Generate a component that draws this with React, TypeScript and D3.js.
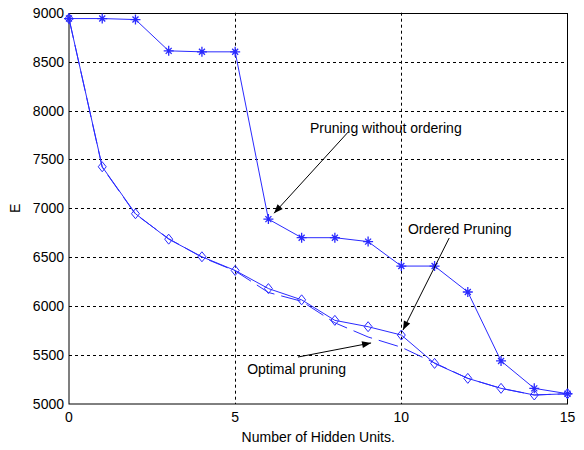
import React, { useRef, useEffect } from "react";
import * as d3 from "d3";

// hidden units on the x axis
const units = d3.range(0, 16);
const withoutOrdering = [8940, 8940, 8930, 8610, 8600, 8600, 6890, 6700, 6700, 6660, 6410, 6410, 6145, 5440, 5160, 5105];
const orderedPruning = [8940, 7425, 6945, 6685, 6505, 6365, 6180, 6065, 5855, 5790, 5705, 5415, 5262, 5160, 5092, 5105];
const optimalPruning = [8940, 7420, 6940, 6690, 6500, 6360, 6140, 6050, 5830, 5685, 5580, 5420, 5262, 5160, 5092, 5105];

const xTicks = [0, 5, 10, 15];
const yTicks = [5000, 5500, 6000, 6500, 7000, 7500, 8000, 8500, 9000];

// annotation: text position and arrow (from -> to) in data units
const notes = [
  { label: "Pruning without ordering", tx: 7.25, ty: 7770, x1: 8.4, y1: 7780, x2: 6.17, y2: 6950 },
  { label: "Ordered Pruning", tx: 10.2, ty: 6738, x1: 11.44, y1: 6697, x2: 10.05, y2: 5756 },
  { label: "Optimal pruning", tx: 5.36, ty: 5307, x1: 6.89, y1: 5480, x2: 9.09, y2: 5624 },
];

const W = 584;
const H = 450;
const left = 69, right = 567.5, top = 12.7, bottom = 404;
const font = "Arial, 'Liberation Sans', sans-serif";
const fs = 14;
const blue = "#2a2aff";

const App = () => {
  const ref = useRef(null);

  useEffect(() => {
    const svg = d3.select(ref.current);
    svg.selectAll("*").remove();

    const x = d3.scaleLinear().domain([0, 15]).range([left, right]);
    const y = d3.scaleLinear().domain([5000, 9000]).range([bottom, top]);

    svg.append("rect").attr("width", W).attr("height", H).attr("fill", "#fff");

    // grid
    const grid = svg.append("g").attr("stroke", "#000").attr("stroke-dasharray", "3,3").attr("stroke-width", 1);
    xTicks.slice(1, -1).forEach((t) => {
      grid.append("line").attr("x1", Math.round(x(t)) + 0.5).attr("x2", Math.round(x(t)) + 0.5).attr("y1", top).attr("y2", bottom);
    });
    yTicks.slice(1, -1).forEach((t) => {
      grid.append("line").attr("y1", Math.round(y(t)) + 0.5).attr("y2", Math.round(y(t)) + 0.5).attr("x1", left).attr("x2", right);
    });

    // frame
    svg.append("rect")
      .attr("x", left).attr("y", Math.round(top) + 0.5)
      .attr("width", right - left).attr("height", bottom - Math.round(top) - 0.5)
      .attr("fill", "none").attr("stroke", "#000");

    // tick labels
    svg.append("g").selectAll("text").data(yTicks).enter().append("text")
      .attr("x", left - 5).attr("y", (d) => y(d)).attr("dy", "0.36em")
      .attr("text-anchor", "end").attr("font-family", font).attr("font-size", fs)
      .text((d) => d);
    svg.append("g").selectAll("text").data(xTicks).enter().append("text")
      .attr("x", (d) => x(d)).attr("y", bottom + 18)
      .attr("text-anchor", "middle").attr("font-family", font).attr("font-size", fs)
      .text((d) => d);

    svg.append("text").attr("transform", `translate(20,${y(7000)}) rotate(-90)`)
      .attr("text-anchor", "middle").attr("font-family", font).attr("font-size", fs).text("E");
    svg.append("text").attr("x", (left + right) / 2).attr("y", 442)
      .attr("text-anchor", "middle").attr("font-family", font).attr("font-size", fs)
      .text("Number of Hidden Units.");

    const line = d3.line().x((d) => x(d[0])).y((d) => y(d[1]));
    const pts = (vals) => units.map((u, i) => [u, vals[i]]);

    svg.append("path").attr("d", line(pts(optimalPruning))).attr("fill", "none")
      .attr("stroke", blue).attr("stroke-width", 1).attr("stroke-dasharray", "20,7");
    svg.append("path").attr("d", line(pts(orderedPruning))).attr("fill", "none")
      .attr("stroke", blue).attr("stroke-width", 1);
    svg.append("path").attr("d", line(pts(withoutOrdering))).attr("fill", "none")
      .attr("stroke", blue).attr("stroke-width", 1);

    // diamonds
    svg.append("g").selectAll("path").data(pts(orderedPruning)).enter().append("path")
      .attr("d", (d) => {
        const cx = x(d[0]), cy = y(d[1]);
        return `M${cx},${cy - 5}L${cx + 4},${cy}L${cx},${cy + 5}L${cx - 4},${cy}Z`;
      })
      .attr("fill", "none").attr("stroke", blue);

    // asterisks
    svg.append("g").selectAll("path").data(pts(withoutOrdering)).enter().append("path")
      .attr("d", (d) => {
        const cx = x(d[0]), cy = y(d[1]);
        return `M${cx - 5},${cy}H${cx + 5}M${cx},${cy - 5}V${cy + 5}M${cx - 3},${cy - 3}L${cx + 3},${cy + 3}M${cx - 3},${cy + 3}L${cx + 3},${cy - 3}`;
      })
      .attr("fill", "none").attr("stroke", blue).attr("stroke-width", 1.3);

    // annotations
    notes.forEach((n) => {
      svg.append("text").attr("x", x(n.tx)).attr("y", y(n.ty))
        .attr("font-family", font).attr("font-size", fs).text(n.label);
      const ax1 = x(n.x1), ay1 = y(n.y1), ax2 = x(n.x2), ay2 = y(n.y2);
      svg.append("line").attr("x1", ax1).attr("y1", ay1).attr("x2", ax2).attr("y2", ay2)
        .attr("stroke", "#000").attr("stroke-width", 1);
      const ang = Math.atan2(ay2 - ay1, ax2 - ax1);
      const len = 9, wid = 3.5;
      const bx = ax2 - len * Math.cos(ang), by = ay2 - len * Math.sin(ang);
      const px = -Math.sin(ang) * wid, py = Math.cos(ang) * wid;
      svg.append("path")
        .attr("d", `M${ax2},${ay2}L${bx + px},${by + py}L${bx - px},${by - py}Z`)
        .attr("fill", "#000");
    });
  }, []);

  return <svg ref={ref} width={W} height={H} style={{ position: "absolute", left: 0, top: 0 }} />;
};

export default App;
